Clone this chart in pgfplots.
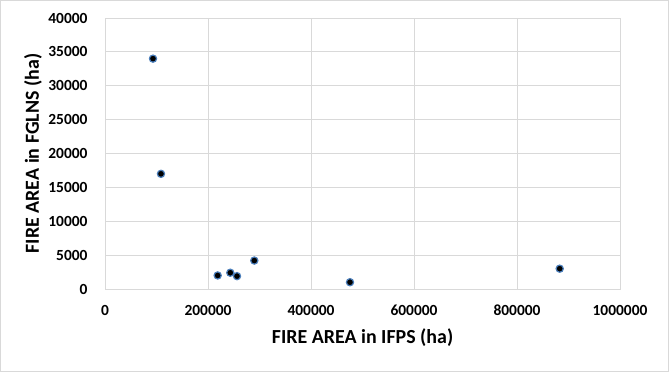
\documentclass[border=0pt]{standalone}
\usepackage{fontspec}
\setmainfont{Carlito}
\usepackage{pgfplots}
\pgfplotsset{compat=1.18}
\definecolor{gridc}{HTML}{D9D9D9}
\definecolor{mk}{HTML}{4A7EBB}
\begin{document}
\begin{tikzpicture}[x=1bp,y=1bp]
\useasboundingbox (0,0) rectangle (669,372);
\draw[gridc, line width=1bp] (0.5,0.5) rectangle (668.5,371.5);
\begin{axis}[
  at={(105bp,83bp)}, anchor=south west,
  scale only axis, width=515bp, height=271bp,
  xmin=0, xmax=1000000, ymin=0, ymax=40000,
  xtick={0,200000,...,1000000}, ytick={0,5000,...,40000},
  scaled ticks=false,
  /pgf/number format/.cd, fixed, 1000 sep={}, assume math mode=true,
  /pgfplots/.cd,
  grid=major, major grid style={gridc, line width=0.8bp},
  axis line style={gridc, line width=0.8bp},
  tick style={draw=none},
  ticklabel style={font=\bfseries\fontsize{15.5}{17}\selectfont, text=black},
  xticklabel style={anchor=center, yshift=-21bp},
  yticklabel style={anchor=east, xshift=-14bp},
  xlabel={\textbf{FIRE AREA in IFPS (ha)}},
  ylabel={\textbf{FIRE AREA in FGLNS (ha)}},
  label style={font=\fontsize{20}{23}\selectfont},
  xlabel style={at={(axis description cs:0.5,0)}, anchor=center, yshift=-49bp},
  ylabel style={at={(axis description cs:0,0.5)}, anchor=center, rotate=0, yshift=72bp},
]
\addplot[only marks, mark=*, mark size=3.6bp, mark options={fill=black, draw=mk, line width=1.2bp}] coordinates {
(93200,34000) (108700,17000) (218800,2000) (243300,2400) (256300,1900) (289900,4200) (475700,1000) (882900,3000)
};
\end{axis}
\end{tikzpicture}
\end{document}
